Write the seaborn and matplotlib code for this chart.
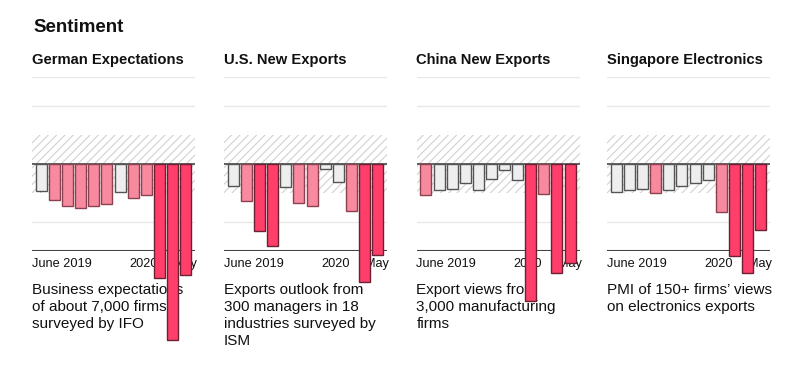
import matplotlib
matplotlib.use("Agg")
import matplotlib.pyplot as plt
import numpy as np
import pandas as pd
import seaborn as sns

# ---------------- data ----------------
months = ["Jun", "Jul", "Aug", "Sep", "Oct", "Nov", "Dec", "Jan", "Feb", "Mar", "Apr", "May"]
titles = ["German Expectations", "U.S. New Exports", "China New Exports", "Singapore Electronics"]
descriptions = [
    "Business expectations\nof about 7,000 firms\nsurveyed by IFO",
    "Exports outlook from\n300 managers in 18\nindustries surveyed by\nISM",
    "Export views from\n3,000 manufacturing\nfirms",
    "PMI of 150+ firms\u2019 views\non electronics exports",
]
german = [-0.93, -1.24, -1.47, -1.54, -1.47, -1.39, -0.97, -1.18, -1.09, -3.94, -6.10, -3.84]
us_exports = [-0.78, -1.30, -2.33, -2.83, -0.80, -1.34, -1.47, -0.17, -0.63, -1.63, -4.07, -3.15]
china_exports = [-1.06, -0.92, -0.87, -0.65, -0.90, -0.54, -0.21, -0.55, -4.74, -1.03, -3.76, -3.44]
singapore = [-0.96, -0.92, -0.88, -1.02, -0.92, -0.77, -0.67, -0.57, -1.66, -3.17, -3.76, -2.27]
series = [german, us_exports, china_exports, singapore]
tick_labels = ["June 2019", "2020", "May"]
tick_positions = [-0.72, 6.7, 11.9]

# ---------------- style ----------------
sns.set_theme(style="white")
plt.rcParams["font.family"] = ["Liberation Sans", "DejaVu Sans"]
plt.rcParams["hatch.linewidth"] = 0.7

levels = ["normal", "low", "extreme"]
palette = {"normal": "#eeeeee", "low": "#f88aa0", "extreme": "#ff3e6a"}
edges = {"normal": "#555555", "low": "#8c4150", "extreme": "#6a2233"}

def level_of(v):
    if v > -1:
        return "normal"
    if v > -2:
        return "low"
    return "extreme"

W, H = 800, 376
fig = plt.figure(figsize=(W / 100, H / 100), dpi=100)

lefts = [32, 224, 416.5, 607]
ax_w = 163
top_px, bot_px = 77, 250.7

fig.text(33 / W, 1 - 31.5 / H, "Sentiment", fontsize=13.5, fontweight="bold",
         color="#111111", va="baseline", ha="left")

for i, vals in enumerate(series):
    ax = fig.add_axes([lefts[i] / W, 1 - bot_px / H, ax_w / W, (bot_px - top_px) / H])
    df = pd.DataFrame({"month": months, "value": vals,
                       "level": [level_of(v) for v in vals]})
    sns.barplot(data=df, x="month", y="value", hue="level", hue_order=levels,
                palette=palette, saturation=1, dodge=False, width=0.84, errorbar=None,
                legend=False, ax=ax, linewidth=1.0, zorder=5)
    face_to_edge = {matplotlib.colors.to_hex(palette[k]): edges[k] for k in levels}
    for p in ax.patches:
        fc = matplotlib.colors.to_hex(p.get_facecolor())
        p.set_edgecolor(face_to_edge.get(fc, "#555555"))
        p.set_clip_on(False)
        p.set_zorder(5)

    ax.set_xlim(-0.72, 11.72)
    ax.set_ylim(-3, 3)
    ax.axis("off")

    # hatched +/-1 band
    ax.axhspan(-1, 1, facecolor="white", edgecolor="#cccccc", hatch="////",
               linewidth=0, zorder=1)
    for g in [3, 2, -2]:
        ax.axhline(g, color="#e8e8e8", lw=1.0, zorder=0.5)
    ax.axhline(0, color="#555555", lw=1.3, zorder=4)
    ax.axhline(-3, color="#444444", lw=1.5, zorder=4)

    # title
    ax.text(-0.72, 3.45, titles[i], fontsize=10.6, fontweight="bold", color="#111111",
            ha="left", va="baseline", clip_on=False, zorder=1)
    # tick labels
    has = ["left", "left", "right"]
    for lab, xp, ha in zip(tick_labels, tick_positions, has):
        ax.text(xp, -3.58, lab, fontsize=9.2, color="#111111", ha=ha, va="baseline",
                clip_on=False, zorder=3)
    # description
    ax.text(-0.72, -4.1, descriptions[i], fontsize=11, color="#111111", ha="left",
            va="top", linespacing=1.3, clip_on=False, zorder=1)

fig.savefig("out.png", dpi=100, facecolor="white")
